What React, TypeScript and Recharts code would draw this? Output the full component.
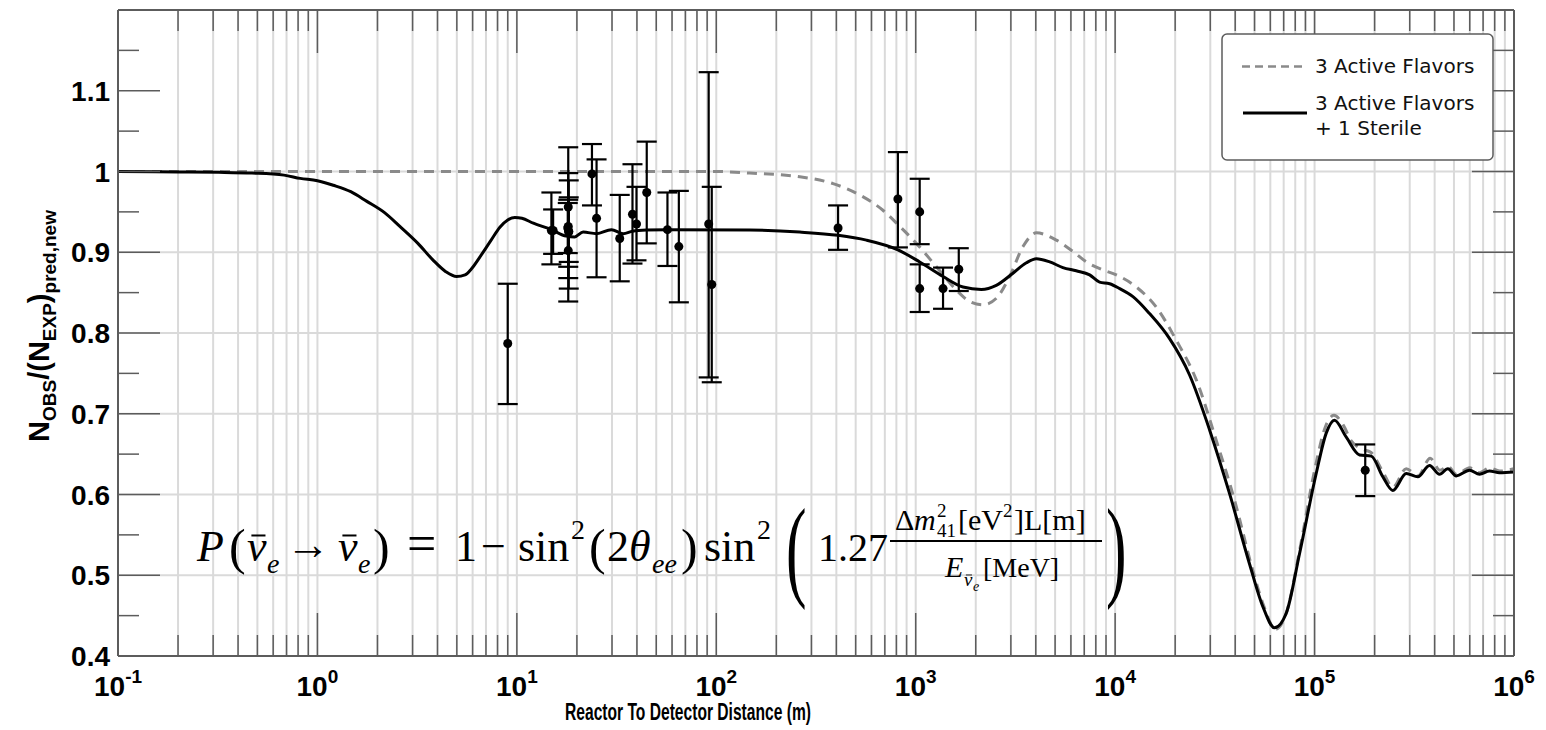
import React from "react";
import {
  ComposedChart,
  Line,
  Scatter,
  ErrorBar,
  XAxis,
  YAxis,
  CartesianGrid,
  ReferenceLine,
  Legend,
} from "recharts";

// colours
const C = {
  ink: "#000000",
  frame: "#5c5c5c",
  tick: "#5c5c5c",
  grid: "#dadada",
  dash: "#8a8a8a",
} as const;

const SANS = "'Liberation Sans', Arial, Helvetica, sans-serif";
const SERIF = "'Liberation Serif', 'Times New Roman', serif";

// 3 active + 1 sterile (solid curve)
const sterileL = [0.1, 0.2, 0.32, 0.47, 0.68, 0.82, 1.0, 1.2, 1.47, 1.77, 2.17, 2.59, 3.19, 3.81, 4.4, 4.99, 5.5, 5.9, 6.52, 7.43, 8.22, 9.0, 9.77, 10.6, 12.1, 14.9, 17.7, 19.5, 21.5, 25.1, 29.8, 34.1, 38, 44.7, 56.3, 147, 262, 408, 566, 814, 1047, 1371, 1726, 2134, 2535, 3073, 3590, 4030, 4700, 5470, 6380, 7450, 8350, 9380, 10540, 12280, 14880, 18750, 23620, 29760, 37480, 47200, 55070, 62950, 72100, 84100, 101900, 114400, 125900, 144200, 168200, 192400, 219900, 246800, 288200, 329600, 377000, 423400, 465900, 513300, 598600, 671600, 753600, 845600, 1000000];
const sterileR = [1.0, 0.9995, 0.999, 0.998, 0.9955, 0.9915, 0.9886, 0.983, 0.975, 0.963, 0.949, 0.932, 0.911, 0.89, 0.876, 0.87, 0.872, 0.879, 0.894, 0.915, 0.931, 0.94, 0.943, 0.942, 0.936, 0.928, 0.92, 0.919, 0.925, 0.923, 0.928, 0.923, 0.926, 0.9275, 0.928, 0.9275, 0.925, 0.921, 0.915, 0.903, 0.888, 0.87, 0.857, 0.854, 0.859, 0.874, 0.887, 0.892, 0.888, 0.881, 0.877, 0.872, 0.863, 0.861, 0.855, 0.845, 0.824, 0.793, 0.748, 0.68, 0.601, 0.514, 0.461, 0.435, 0.453, 0.527, 0.626, 0.676, 0.692, 0.671, 0.649, 0.6475, 0.622, 0.605, 0.626, 0.622, 0.636, 0.625, 0.632, 0.623, 0.63, 0.625, 0.629, 0.627, 0.628];

// 3 active flavours (dashed curve)
const activeL = [0.1, 100, 147, 262, 385, 523, 685, 832, 1008, 1270, 1600, 1866, 2175, 2537, 2959, 3451, 4027, 5073, 6143, 7170, 8690, 10130, 12770, 16080, 20260, 25520, 32140, 40000, 48500, 56000, 63500, 72500, 84000, 101000, 113000, 125000, 140000, 152000, 170000, 192000, 220000, 247000, 288000, 330000, 380000, 425000, 466000, 515000, 600000, 672000, 755000, 846000, 1000000];
const activeR = [1.0, 1.0, 0.998, 0.9935, 0.985, 0.971, 0.952, 0.932, 0.911, 0.882, 0.853, 0.839, 0.835, 0.843, 0.87, 0.907, 0.924, 0.915, 0.901, 0.888, 0.878, 0.872, 0.857, 0.832, 0.791, 0.742, 0.667, 0.59, 0.51, 0.46, 0.433, 0.455, 0.53, 0.635, 0.683, 0.698, 0.685, 0.667, 0.657, 0.652, 0.628, 0.609, 0.632, 0.623, 0.645, 0.63, 0.635, 0.625, 0.633, 0.627, 0.633, 0.629, 0.632];

// measured ratios with their error bar ends
const expL = [9.0, 14.9, 15.2, 18.1, 18.1, 18.2, 18.1, 18.0, 18.2, 23.8, 25.1, 32.8, 38.0, 39.8, 44.8, 56.9, 64.9, 91.6, 94.9, 408, 814, 1047, 1047, 1371, 1644, 179500];
const expR = [0.787, 0.927, 0.927, 0.956, 0.932, 0.925, 0.902, 0.93, 0.926, 0.997, 0.942, 0.917, 0.947, 0.935, 0.974, 0.928, 0.907, 0.935, 0.86, 0.93, 0.966, 0.95, 0.855, 0.855, 0.879, 0.63];
const expLo = [0.712, 0.885, 0.898, 0.882, 0.868, 0.855, 0.839, 0.899, 0.888, 0.958, 0.869, 0.864, 0.886, 0.89, 0.911, 0.883, 0.838, 0.745, 0.739, 0.903, 0.906, 0.91, 0.826, 0.83, 0.852, 0.598];
const expHi = [0.861, 0.974, 0.953, 1.03, 0.998, 0.989, 0.965, 0.961, 0.968, 1.034, 1.015, 0.971, 1.009, 0.981, 1.037, 0.974, 0.976, 1.123, 0.981, 0.958, 1.024, 0.991, 0.885, 0.881, 0.905, 0.662];

// axis ticks
const xDecades = [-1, 0, 1, 2, 3, 4, 5];
const xTicks: number[] = [];
xDecades.forEach((d) => {
  for (let k = 1; k <= 9; k++) xTicks.push(k * Math.pow(10, d));
});
xTicks.push(1e6);
const yTicks = [0.4, 0.45, 0.5, 0.55, 0.6, 0.65, 0.7, 0.75, 0.8, 0.85, 0.9, 0.95, 1.0, 1.05, 1.1, 1.15, 1.2];
const yLabels = [0.4, 0.5, 0.6, 0.7, 0.8, 0.9, 1, 1.1];
const yGrid = [0.5, 0.6, 0.7, 0.8, 0.9, 1.0];

const sterileData = sterileL.map((x, i) => ({ x, y: sterileR[i] }));
const activeData = activeL.map((x, i) => ({ x, y: activeR[i] }));
const expData = expL.map((x, i) => ({
  x,
  y: expR[i],
  err: [expR[i] - expLo[i], expHi[i] - expR[i]],
}));

const isDecade = (v: number) => Math.abs(Math.log10(v) - Math.round(Math.log10(v))) < 1e-6;
const isMajorY = (v: number) => Math.round(v * 100) % 10 === 0;

function BottomTick({ x, y, payload }: any) {
  const v = payload.value;
  const major = isDecade(v);
  const e = Math.round(Math.log10(v));
  return (
    <g>
      <line x1={x} x2={x} y1={y} y2={y - (major ? 43 : 21)} stroke={C.tick} strokeWidth={1.5} />
      {major && (
        <text x={x} y={y + 40} textAnchor="middle" fontFamily={SANS} fontWeight="bold" fontSize={28} fill={C.ink}>
          10
          <tspan dy={-13} fontSize={19}>{e}</tspan>
        </text>
      )}
    </g>
  );
}

function TopTick({ x, y, payload }: any) {
  const major = isDecade(payload.value);
  return <line x1={x} x2={x} y1={y} y2={y + (major ? 43 : 21)} stroke={C.tick} strokeWidth={1.5} />;
}

function LeftTick({ x, y, payload }: any) {
  const v = payload.value;
  const major = isMajorY(v);
  const lab = yLabels.find((l) => Math.abs(l - v) < 1e-6);
  return (
    <g>
      <line x1={x} x2={x + (major ? 42 : 21)} y1={y} y2={y} stroke={C.tick} strokeWidth={1.5} />
      {lab !== undefined && (
        <text x={x - 8} y={y + 10} textAnchor="end" fontFamily={SANS} fontWeight="bold" fontSize={28} fill={C.ink}>
          {String(lab)}
        </text>
      )}
    </g>
  );
}

function RightTick({ x, y, payload }: any) {
  const major = isMajorY(payload.value);
  return <line x1={x} x2={x - (major ? 42 : 21)} y1={y} y2={y} stroke={C.tick} strokeWidth={1.5} />;
}

function LegendBox() {
  const f = "'DejaVu Sans', sans-serif";
  return (
    <svg width={273} height={128} style={{ display: "block" }}>
      <rect x={1} y={1} width={271} height={126} rx={5} fill="#fff" stroke={C.frame} strokeWidth={1.5} />
      <line x1={21} x2={85} y1={33.5} y2={33.5} stroke={C.dash} strokeWidth={2.5} strokeDasharray="8 5" />
      <text x={94} y={40} fontFamily={f} fontSize={20} fill="#111">3 Active Flavors</text>
      <line x1={22} x2={86} y1={80} y2={80} stroke={C.ink} strokeWidth={3} />
      <text x={94} y={77} fontFamily={f} fontSize={20} fill="#111">3 Active Flavors</text>
      <text x={94} y={102} fontFamily={f} fontSize={20} fill="#111">+ 1 Sterile</text>
    </svg>
  );
}

// one glyph run of the formula
function T({ x, y, s, it, children }: any) {
  return (
    <text x={x} y={y} fontSize={s} fontStyle={it ? "italic" : "normal"}>
      {children}
    </text>
  );
}

// nu with a bar over it
function Nu({ x, y, s }: any) {
  return (
    <g>
      <T x={x} y={y} s={s} it>ν</T>
      <line x1={x + s * 0.1} x2={x + s * 0.42} y1={y - s * 0.58} y2={y - s * 0.58} stroke={C.ink} strokeWidth={s / 22} />
    </g>
  );
}

function Overlay() {
  const M = 44;
  const S = 28;
  return (
    <svg width={1546} height={730} style={{ position: "absolute", left: 0, top: 0, pointerEvents: "none" }}>
      {/* x title */}
      <text x={688} y={720} textAnchor="middle" fontFamily={SANS} fontWeight="bold" fontSize={24}
        textLength={246} lengthAdjust="spacingAndGlyphs" fill={C.ink}>
        Reactor To Detector Distance (m)
      </text>
      {/* y title */}
      <text transform="translate(49,326) rotate(-90)" textAnchor="middle" fontFamily={SANS} fontWeight="bold" fontSize={29} fill={C.ink}>
        N<tspan fontSize={19} dy={7}>OBS</tspan>
        <tspan dy={-7}>/(N</tspan>
        <tspan fontSize={19} dy={7}>EXP</tspan>
        <tspan dy={-7}>)</tspan>
        <tspan fontSize={19} dy={7}>pred,new</tspan>
      </text>
      {/* oscillation formula */}
      <g fontFamily={SERIF} fill={C.ink}>
        <T x={197} y={561} s={M} it>P</T>
        <T x={229} y={564} s={50}>(</T>
        <Nu x={247} y={561} s={M} />
        <T x={267} y={573} s={S} it>e</T>
        <T x={286} y={559} s={M}>→</T>
        <Nu x={338} y={561} s={M} />
        <T x={358} y={573} s={S} it>e</T>
        <T x={373} y={564} s={50}>)</T>
        <T x={407} y={561} s={52}>=</T>
        <T x={455} y={561} s={M}>1</T>
        <T x={481} y={561} s={M}>−</T>
        <T x={518} y={561} s={M}>sin</T>
        <T x={571} y={539} s={S}>2</T>
        <T x={589} y={564} s={50}>(</T>
        <T x={607} y={561} s={M}>2</T>
        <T x={629} y={561} s={M} it>θ</T>
        <T x={652} y={573} s={S} it>ee</T>
        <T x={681} y={564} s={50}>)</T>
        <T x={704} y={561} s={M}>sin</T>
        <T x={757} y={539} s={S}>2</T>
        <text transform="translate(786,586) scale(0.55,1)" fontSize={112}>(</text>
        <T x={818} y={561} s={40}>1.27</T>
        <T x={895} y={530} s={30}>Δ</T>
        <T x={914} y={530} s={30} it>m</T>
        <T x={937} y={517} s={19}>2</T>
        <T x={937} y={537} s={19}>41</T>
        <T x={958} y={530} s={30}>[eV</T>
        <T x={1003} y={517} s={19}>2</T>
        <T x={1014} y={530} s={30}>]L[m]</T>
        <line x1={890} x2={1102} y1={541} y2={541} stroke={C.ink} strokeWidth={2.2} />
        <T x={945} y={577} s={30} it>E</T>
        <Nu x={964} y={586} s={19} />
        <T x={973} y={591} s={14} it>e</T>
        <T x={983} y={577} s={28}>[MeV]</T>
        <text transform="translate(1106,586) scale(0.55,1)" fontSize={112}>)</text>
      </g>
    </svg>
  );
}

export default function App() {
  return (
    <div style={{ position: "absolute", left: 0, top: 0, width: 1546, height: 730, background: "#fff" }}>
      <ComposedChart width={1546} height={730} margin={{ top: 10, right: 32, bottom: 0, left: 0 }}>
        <CartesianGrid horizontal={false} stroke={C.grid} strokeWidth={2} />
        {yGrid.map((v) => (
          <ReferenceLine key={v} y={v} stroke={C.grid} strokeWidth={2} />
        ))}
        <XAxis
          dataKey="x"
          type="number"
          scale="log"
          domain={[0.1, 1e6]}
          allowDataOverflow
          ticks={xTicks}
          interval={0}
          height={74}
          tickSize={0}
          tickMargin={0}
          tickLine={false}
          tick={(p: any) => <BottomTick {...p} />}
          axisLine={{ stroke: C.frame, strokeWidth: 2 }}
        />
        <XAxis
          xAxisId="top"
          orientation="top"
          mirror
          dataKey="x"
          type="number"
          scale="log"
          domain={[0.1, 1e6]}
          allowDataOverflow
          ticks={xTicks}
          interval={0}
          tickSize={0}
          tickMargin={0}
          tickLine={false}
          tick={(p: any) => <TopTick {...p} />}
          axisLine={{ stroke: C.frame, strokeWidth: 2 }}
        />
        <YAxis
          dataKey="y"
          type="number"
          domain={[0.4, 1.2]}
          allowDataOverflow
          ticks={yTicks}
          interval={0}
          width={118}
          tickSize={0}
          tickMargin={0}
          tickLine={false}
          tick={(p: any) => <LeftTick {...p} />}
          axisLine={{ stroke: C.frame, strokeWidth: 2 }}
        />
        <YAxis
          yAxisId="right"
          orientation="right"
          mirror
          dataKey="y"
          type="number"
          domain={[0.4, 1.2]}
          allowDataOverflow
          ticks={yTicks}
          interval={0}
          tickSize={0}
          tickMargin={0}
          tickLine={false}
          tick={(p: any) => <RightTick {...p} />}
          axisLine={{ stroke: C.frame, strokeWidth: 2 }}
        />
        <Line
          data={activeData}
          dataKey="y"
          type="monotone"
          stroke={C.dash}
          strokeWidth={3}
          strokeDasharray="10 7"
          dot={false}
          isAnimationActive={false}
        />
        <Line
          data={sterileData}
          dataKey="y"
          type="monotone"
          stroke={C.ink}
          strokeWidth={3}
          dot={false}
          isAnimationActive={false}
        />
        <Scatter data={expData} dataKey="y" fill={C.ink} isAnimationActive={false}>
          <ErrorBar dataKey="err" direction="y" width={10} stroke={C.ink} strokeWidth={2.2} />
        </Scatter>
        <Legend
          layout="horizontal"
          verticalAlign="middle"
          align="center"
          content={() => <LegendBox />}
          wrapperStyle={{ position: "absolute", left: 1221, top: 33, width: 273, height: 128 }}
        />
      </ComposedChart>
      <Overlay />
    </div>
  );
}
